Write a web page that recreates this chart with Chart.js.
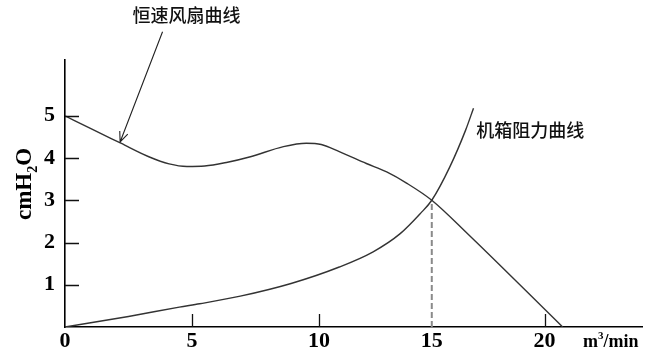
<!DOCTYPE html>
<html>
<head>
<meta charset="utf-8">
<script src="https://cdn.jsdelivr.net/npm/chart.js@4.4.1/dist/chart.umd.min.js"></script>
<style>
  body { margin: 0; background: #fff; }
  #wrap { width: 650px; height: 357px; position: relative; }
</style>
</head>
<body>
<div id="wrap"><canvas id="fanChart"></canvas></div>
<script>
// air flow (m3/min) and pressure (cmH2O)
const fanX = [0, 1, 2.2, 3.3, 4.1, 4.8, 5.5, 6.4, 7.3, 8.6, 9.5, 10.1, 10.9, 12.1, 13, 13.9, 15, 16.6, 20.8];
const fanY = [5, 4.7, 4.35, 4.03, 3.86, 3.8, 3.81, 3.9, 4.03, 4.27, 4.35, 4.32, 4.15, 3.87, 3.67, 3.4, 3, 2.2, 0];

const caseX = [0, 2.5, 4.5, 5.3, 6.9, 8.9, 10.9, 12.4, 13.6, 14.5, 15, 15.8, 16.5, 16.85];
const caseY = [0, 0.25, 0.47, 0.55, 0.73, 1.03, 1.42, 1.78, 2.21, 2.69, 3, 3.79, 4.66, 5.18];

// operating point
const workX = [15, 15];
const workY = [0, 3];

const xTickLabels = [0, 5, 10, 15, 20];
const xTickMarks = [5, 10, 20];
const yTickLabels = [1, 2, 3, 4, 5];

const fanName = '恒速风扇曲线';
const caseName = '机箱阻力曲线';

// the sketch is drawn a bit narrower after 10, so the x scale is warped
const warp = function (v) {
  return v <= 10 ? v : 10 + (v - 10) * 0.888;
};
const unwarp = function (w) {
  return w <= 10 ? w : 10 + (w - 10) / 0.888;
};

class WarpScale extends Chart.LinearScale {
  getPixelForValue(value) {
    if (value === null || value === undefined) return NaN;
    const a = warp(this.min), b = warp(this.max);
    return this.getPixelForDecimal((warp(value) - a) / (b - a));
  }
  getValueForPixel(pixel) {
    const a = warp(this.min), b = warp(this.max);
    return unwarp(a + this.getDecimalForPixel(pixel) * (b - a));
  }
}
WarpScale.id = 'warp';
WarpScale.defaults = Chart.LinearScale.defaults;
Chart.register(WarpScale);

const toPoints = (xs, ys) => xs.map((x, i) => ({ x: x, y: ys[i] }));

const serif = '"Liberation Serif", "Times New Roman", serif';
const cjk = '"Noto Sans CJK SC", sans-serif';

// ticks pointing inward, labels, arrow and axis titles
const sketchPlugin = {
  id: 'sketch',
  afterDatasetsDraw(chart) {
    const ctx = chart.ctx;
    const xs = chart.scales.x, ys = chart.scales.y;
    const area = chart.chartArea;
    ctx.save();
    ctx.strokeStyle = '#111';
    ctx.lineWidth = 1.3;
    ctx.beginPath();
    yTickLabels.forEach(v => {
      const py = Math.round(ys.getPixelForValue(v)) + 0.5;
      ctx.moveTo(area.left, py);
      ctx.lineTo(area.left + 14, py);
    });
    xTickMarks.forEach(v => {
      const px = Math.round(xs.getPixelForValue(v)) + 0.5;
      ctx.moveTo(px, area.bottom);
      ctx.lineTo(px, area.bottom - 13);
    });
    ctx.stroke();

    // arrow to the fan curve
    const x0 = xs.getPixelForValue(3.84), y0 = ys.getPixelForValue(6.99);
    const x1 = xs.getPixelForValue(2.17), y1 = ys.getPixelForValue(4.38);
    const ang = Math.atan2(y1 - y0, x1 - x0);
    ctx.strokeStyle = '#222';
    ctx.lineWidth = 1.1;
    ctx.beginPath();
    ctx.moveTo(x0, y0);
    ctx.lineTo(x1, y1);
    ctx.moveTo(x1 - 11 * Math.cos(ang - 0.4), y1 - 11 * Math.sin(ang - 0.4));
    ctx.lineTo(x1, y1);
    ctx.lineTo(x1 - 11 * Math.cos(ang + 0.4), y1 - 11 * Math.sin(ang + 0.4));
    ctx.stroke();

    // curve names
    ctx.fillStyle = '#111';
    ctx.font = '500 18px ' + cjk;
    ctx.textBaseline = 'middle';
    ctx.textAlign = 'center';
    ctx.fillText(fanName, xs.getPixelForValue(4.78), ys.getPixelForValue(7.39));
    ctx.textAlign = 'left';
    ctx.fillText(caseName, xs.getPixelForValue(16.97), ys.getPixelForValue(4.66));

    // unit on x axis
    ctx.fillStyle = '#000';
    ctx.textBaseline = 'alphabetic';
    ctx.font = 'bold 18px ' + serif;
    let ux = 583;
    ctx.fillText('m', ux, 347);
    ux += ctx.measureText('m').width;
    ctx.font = 'bold 11px ' + serif;
    ctx.fillText('3', ux, 339);
    ux += ctx.measureText('3').width;
    ctx.font = 'bold 18px ' + serif;
    ctx.fillText('/min', ux, 347);

    // y title cmH2O
    ctx.translate(31, 220);
    ctx.rotate(-Math.PI / 2);
    ctx.font = 'bold 23px ' + serif;
    let tx = 0;
    ctx.fillText('cmH', tx, 0);
    tx += ctx.measureText('cmH').width;
    ctx.font = 'bold 14px ' + serif;
    ctx.fillText('2', tx, 6);
    tx += ctx.measureText('2').width;
    ctx.font = 'bold 23px ' + serif;
    ctx.fillText('O', tx, 0);
    ctx.restore();
  }
};

const ctxLine = document.getElementById('fanChart');

const fanChart = new Chart(ctxLine, {
  type: 'line',
  data: {
    datasets: [{
      label: fanName,
      data: toPoints(fanX, fanY),
      borderColor: '#333',
      borderWidth: 1.4,
      pointRadius: 0,
      cubicInterpolationMode: 'monotone',
      fill: false
    }, {
      label: caseName,
      data: toPoints(caseX, caseY),
      borderColor: '#333',
      borderWidth: 1.4,
      pointRadius: 0,
      cubicInterpolationMode: 'monotone',
      fill: false
    }, {
      label: 'work',
      data: toPoints(workX, workY),
      borderColor: '#8a8a8a',
      borderWidth: 2,
      borderDash: [6, 3],
      pointRadius: 0,
      fill: false
    }]
  },
  options: {
    responsive: true,
    maintainAspectRatio: false,
    animation: false,
    layout: {
      padding: { top: 60, right: 8, left: 0, bottom: 0 }
    },
    plugins: {
      legend: { display: false },
      tooltip: { enabled: false }
    },
    scales: {
      x: {
        type: 'warp',
        min: 0,
        max: 24.32,
        afterBuildTicks: (scale) => { scale.ticks = xTickLabels.map(v => ({ value: v })); },
        afterFit: (scale) => { scale.height = 30; },
        grid: { display: false, drawTicks: false },
        border: { display: true, color: '#000', width: 1.6 },
        ticks: {
          color: '#000',
          padding: 1,
          maxRotation: 0,
          autoSkip: false,
          font: { family: serif, size: 22, weight: 'bold' }
        }
      },
      y: {
        type: 'linear',
        min: 0,
        max: 6.32,
        afterBuildTicks: (scale) => { scale.ticks = yTickLabels.map(v => ({ value: v })); },
        afterFit: (scale) => { scale.width = 65; },
        grid: { display: false, drawTicks: false },
        border: { display: true, color: '#000', width: 1.6 },
        ticks: {
          color: '#000',
          padding: 10,
          font: { family: serif, size: 22, weight: 'bold' }
        }
      }
    }
  },
  plugins: [sketchPlugin]
});
</script>
</body>
</html>
